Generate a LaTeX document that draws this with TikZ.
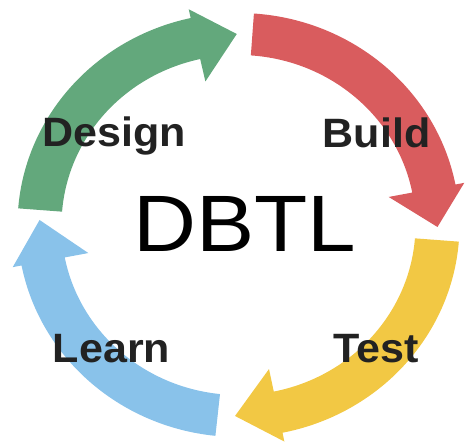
\documentclass[tikz,border=0pt]{standalone}
\usepackage{fontspec}
\setmainfont{Liberation Sans}
\usetikzlibrary{calc}

\definecolor{designgreen}{RGB}{99,168,124}
\definecolor{buildred}{RGB}{217,92,94}
\definecolor{testyellow}{RGB}{242,200,68}
\definecolor{learnblue}{RGB}{137,194,234}
\definecolor{labelgray}{RGB}{34,34,34}

\begin{document}
\begin{tikzpicture}[x=1pt, y=1pt,
    phase/.style={font=\fontsize{41}{41}\selectfont\bfseries, text=labelgray,
                  anchor=base, inner sep=0pt, xscale=1.05}]
                \useasboundingbox (0,0) rectangle (466,447);
                \coordinate (hub) at (238.5,222);

                % Cycle arrows: colour / tail / head base / tip angles
                \foreach \col/\a/\b/\t in {designgreen/175.5/102.5/90.5,
                                           buildred/86/11/-0.6,
                                           testyellow/-4.5/-78.5/-91,
                                           learnblue/264/191/178.5}
                    \fill[\col] ($(hub)+(\a:221pt and 212pt)$)
                        arc[start angle=\a, end angle=\b, x radius=221pt, y radius=212pt]
                        -- ($(hub)+(\b:230pt and 221pt)$)
                        -- ($(hub)+(\t:199pt and 191pt)$)
                        -- ($(hub)+(\b:153pt and 147pt)$)
                        -- ($(hub)+(\b:177pt and 170pt)$)
                        arc[start angle=\b, end angle=\a, x radius=177pt, y radius=170pt]
                        -- cycle;

                % Phase labels
                \node[phase] (design) at (114,300) {Design};
                \node[phase] (build) at (376.5,299) {Build};
                \node[phase] (learn) at (111.5,84) {Learn};
                \node[phase] (test) at (376.5,84) {Test};

                % Centre title
                \node[font=\fontsize{80}{80}\selectfont, anchor=base, inner sep=0pt, xscale=1.09] (title) at (244.5,195) {DBTL};
            \end{tikzpicture}
\end{document}
